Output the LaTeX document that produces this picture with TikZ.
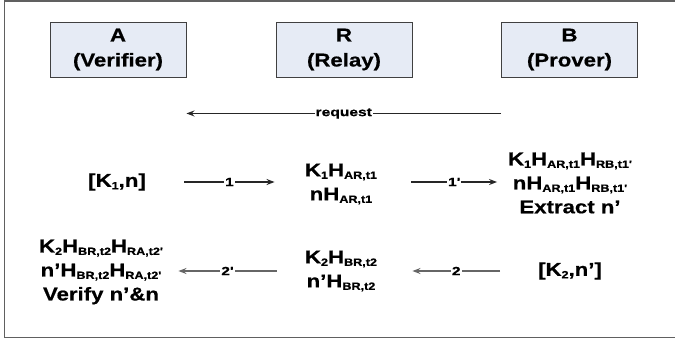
\documentclass[tikz,border=0pt]{standalone}
\usepackage{fontspec}
\setmainfont{Liberation Sans}[FakeStretch=1.2, Ligatures=TeXOff, BoldFeatures={FakeBold=0.6}]
\newfontfamily\tagfont{Liberation Sans}[FakeStretch=1.3, Ligatures=TeXOff, BoldFeatures={FakeBold=0.6}]
\usetikzlibrary{arrows.meta}
% lowered small-size index
\newcommand{\sbs}[1]{\raisebox{-2.5pt}{\fontsize{10.5}{10.5}\selectfont #1}}
\definecolor{boxfill}{HTML}{E6EBF5}
\definecolor{boxline}{HTML}{404040}
\definecolor{framegray}{HTML}{606060}
\begin{document}
\begin{tikzpicture}[x=1pt, y=-1pt,
  party/.style={draw=boxline, line width=0.9pt, fill=boxfill,
    minimum width=136pt, minimum height=55pt, inner sep=0pt, align=center,
    font=\fontsize{18.5}{25}\selectfont\bfseries},
  term/.style={inner sep=0pt, align=center,
    font=\fontsize{18.5}{24}\selectfont\bfseries},
  msg/.style={-{Stealth[length=8pt, width=6pt]}, line width=1.3pt, draw=#1},
  msg/.default={black!85},
  tag/.style={fill=white, inner sep=1pt,
    font=\tagfont\fontsize{12}{12}\selectfont\bfseries}]
\useasboundingbox (0,0) rectangle (675,341);
\draw[framegray, line width=1.5pt] (4.5,0.75) rectangle (680,337.5);

% the three parties
\node[party] (A) at (118,49.5) {A\\(Verifier)};
\node[party] (R) at (344,49.5) {R\\(Relay)};
\node[party] (B) at (569.5,49.5) {B\\(Prover)};

% request from B to A
\draw[msg] ([yshift=-36pt]B.south west) -- node[tag]{request} ([yshift=-36pt]A.south east);

% first round
\node[term] (k1n) at (117,182) {[K\sbs{1},n]};
\node[term] (r1) at (341,184) {K\sbs{1}H\sbs{AR,t1}\\nH\sbs{AR,t1}};
\node[term] (b1) at (570,183) {K\sbs{1}H\sbs{AR,t1}H\sbs{RB,t1'}\\nH\sbs{AR,t1}H\sbs{RB,t1'}\\Extract n’};
\draw[msg] ([xshift=-2pt]A.east |- k1n.center) -- node[tag]{1} ([xshift=-1pt]R.west |- k1n.center);
\draw[msg] ([xshift=-1pt]R.east |- k1n.center) -- node[tag]{1'} ([xshift=-4pt]B.west |- k1n.center);

% second round
\node[term] (k2n) at (570,271) {[K\sbs{2},n’]};
\node[term] (r2) at (341,271) {K\sbs{2}H\sbs{BR,t2}\\n’H\sbs{BR,t2}};
\node[term] (a2) at (101,272) {K\sbs{2}H\sbs{BR,t2}H\sbs{RA,t2'}\\n’H\sbs{BR,t2}H\sbs{RA,t2'}\\Verify n’\&n};
\draw[msg=black!60] ([xshift=-1pt]B.west |- k2n.center) -- node[tag]{2} (R.east |- k2n.center);
\draw[msg=black!60] ([xshift=1pt]R.west |- k2n.center) -- node[tag]{2'} ([xshift=-8pt]A.east |- k2n.center);
\end{tikzpicture}
\end{document}
